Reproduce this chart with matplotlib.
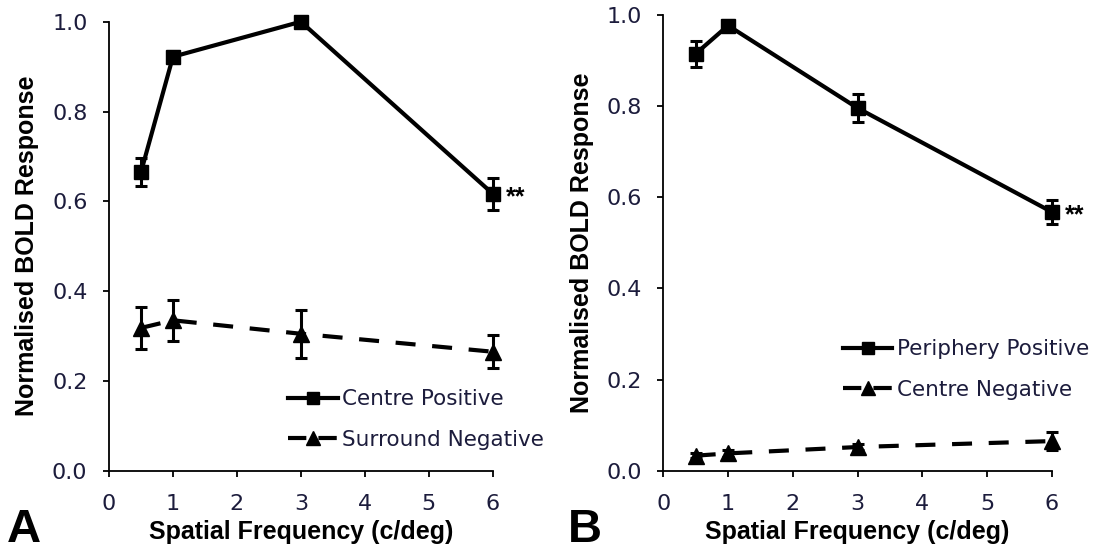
import numpy as np
import matplotlib.pyplot as plt
from matplotlib.lines import Line2D

# spatial frequencies (c/deg)
sf = [0.5, 1, 3, 6]

# panel A
centre_pos = [0.665, 0.922, 1.0, 0.617]
centre_pos_err = [0.032, 0.013, 0.005, 0.036]
surround_neg = [0.318, 0.335, 0.305, 0.265]
surround_neg_err = [0.046, 0.046, 0.053, 0.037]

# panel B
periph_pos = [0.915, 0.977, 0.796, 0.568]
periph_pos_err = [0.028, 0.012, 0.030, 0.026]
centre_neg = [0.033, 0.038, 0.052, 0.065]
centre_neg_err = [0.006, 0.007, 0.007, 0.019]

tick_col = '#1c1c3c'

fig = plt.figure(figsize=(11, 5.51), dpi=100)
axA = fig.add_axes([0.0991, 0.1457, 0.3488, 0.8149])
axB = fig.add_axes([0.603, 0.1457, 0.3531, 0.827])


def panel(ax, pos, pos_err, neg, neg_err, lab_pos, lab_neg, leg_anchor):
    ax.errorbar(sf, pos, yerr=pos_err, color='black', lw=3, marker='s', ms=10,
                capsize=4, elinewidth=2.2, capthick=2.2, clip_on=False)
    ax.errorbar(sf, neg, yerr=neg_err, color='black', lw=3, marker='^', ms=11,
                dashes=(4.8, 4.0), capsize=4, elinewidth=2.2, capthick=2.2,
                clip_on=False)
    ax.set_xlim(0, 6)
    ax.set_ylim(0, 1.0)
    ax.set_xticks(range(7))
    ax.set_yticks(np.arange(0, 1.01, 0.2))
    ax.set_yticklabels(['%.1f' % v for v in np.arange(0, 1.01, 0.2)])
    for s in ['top', 'right']:
        ax.spines[s].set_visible(False)
    for s in ['left', 'bottom']:
        ax.spines[s].set_linewidth(1.3)
    ax.tick_params(direction='out', length=4.5, width=1.3, labelsize=16,
                   labelcolor=tick_col, labelfontfamily='DejaVu Sans')
    ax.tick_params(axis='y', pad=11)
    ax.tick_params(axis='x', pad=12.5)
    ax.set_xlabel('Spatial Frequency (c/deg)', fontsize=18, fontweight='bold',
                  family='Liberation Sans', labelpad=4)
    ax.set_ylabel('Normalised BOLD Response', fontsize=18, fontweight='bold',
                  family='Liberation Sans', labelpad=9)
    ax.text(6.2, pos[3] - 0.007, '**', fontsize=18, fontweight='bold', va='center',
            ha='left', family='Liberation Sans')
    handles = [Line2D([], [], color='black', lw=3, marker='s', ms=9),
               Line2D([], [], color='black', lw=3, marker='^', ms=9.5,
                      dashes=(4.4, 2.9))]
    leg = ax.legend(handles, [lab_pos, lab_neg], loc='upper left',
                    bbox_to_anchor=leg_anchor, frameon=False, borderpad=0,
                    borderaxespad=0, handlelength=2.3, handletextpad=0.2,
                    labelspacing=0.94,
                    prop={'family': 'DejaVu Sans', 'size': 15.5})
    for t in leg.get_texts():
        t.set_color(tick_col)


panel(axA, centre_pos, centre_pos_err, surround_neg, surround_neg_err,
      'Centre Positive', 'Surround Negative', (0.467, 0.181))
panel(axB, periph_pos, periph_pos_err, centre_neg, centre_neg_err,
      'Periphery Positive', 'Centre Negative', (0.462, 0.288))

fig.text(0.006, 0.038, 'A', fontsize=34, fontweight='bold',
         family='Liberation Sans', va='center', ha='left')
fig.text(0.516, 0.038, 'B', fontsize=34, fontweight='bold',
         family='Liberation Sans', va='center', ha='left')

fig.savefig('out.png', dpi=100)
